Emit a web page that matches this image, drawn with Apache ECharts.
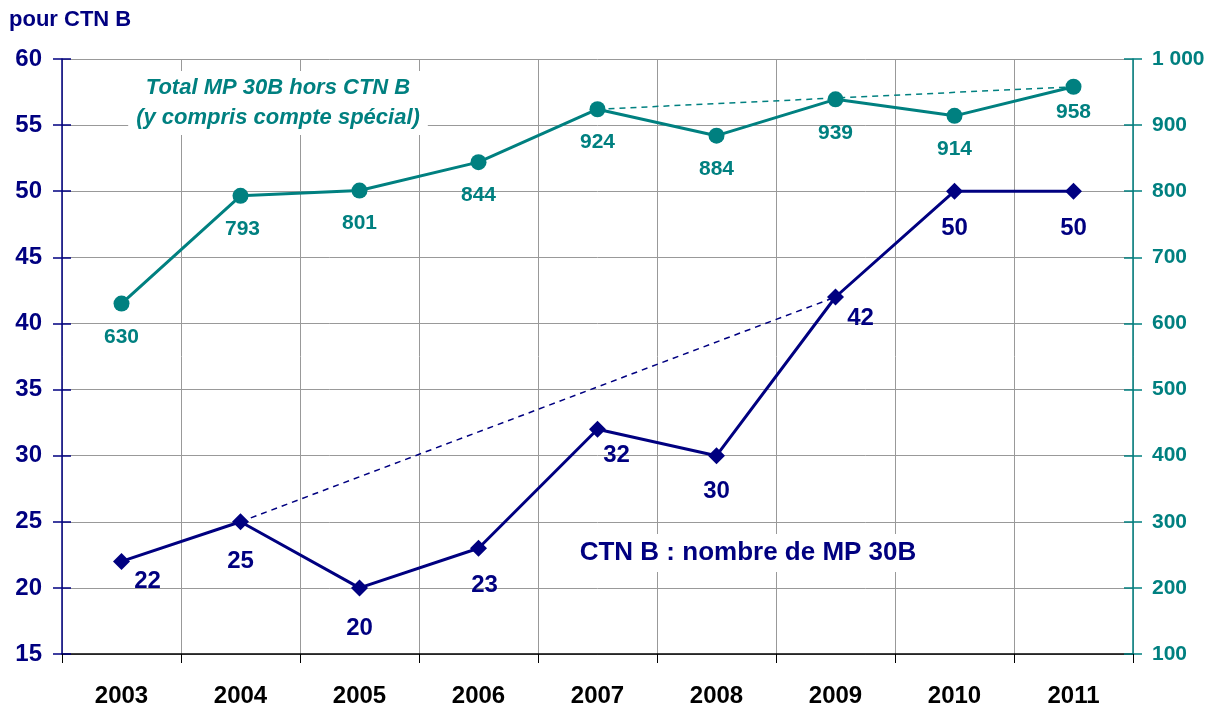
<!DOCTYPE html>
<html><head><meta charset="utf-8">
<script src="https://cdn.jsdelivr.net/npm/echarts@6/dist/echarts.min.js"></script>
<style>html,body{margin:0;padding:0;background:#fff}#c{width:1211px;height:709px}</style>
</head><body><div id="c"></div>
<script>
const years = ['2003','2004','2005','2006','2007','2008','2009','2010','2011'];
const ctnB = [22, 25, 20, 23, 32, 30, 42, 50, 50];
const totalMP = [630, 793, 801, 844, 924, 884, 939, 914, 958];
const ctnTrend = ['-', 25, '-', '-', '-', '-', 42, '-', '-'];
const totalTrend = ['-', '-', '-', '-', 924, '-', '-', '-', 958];

const NAVY = '#000080', TEAL = '#008080';
const FONT = '"Liberation Sans", Arial, sans-serif';
const navyOff = [[26,20],[0,40],[0,40],[6,37],[19,26],[0,36],[25,21],[0,37],[0,37]];
const tealOff = [[0,34],[2,33],[0,33],[0,33],[0,33],[0,34],[0,34],[0,33],[0,25]];

const chart = echarts.init(document.getElementById('c'), null, {renderer:'canvas'});
const yBase = (min,max,interval,pos,color,showLabel,inside,fmt) => ({
  type:'value', min, max, interval, position:pos,
  axisLine:{show:!inside, lineStyle:{color, width:1.5}},
  axisTick:{show:true, inside:inside, length:9, lineStyle:{color, width:1.5}},
  axisLabel:{show:showLabel, color, fontFamily:FONT, fontWeight:'bold', fontSize: pos==='left'?24:21, margin: pos==='left'?20:19, formatter: fmt},
  splitLine:{show:false}
});
const option = {
  animation:false,
  grid:{left:62, right:78, top:59, bottom:55, containLabel:false},
  xAxis:{type:'category', data:years, boundaryGap:true,
    axisLine:{lineStyle:{color:'#000', width:1.5}},
    axisTick:{show:true, length:9, lineStyle:{color:'#000', width:1}},
    axisLabel:{color:'#000', fontFamily:FONT, fontWeight:'bold', fontSize:24, margin:30},
    splitLine:{show:true, lineStyle:{color:'#999', width:1}}},
  yAxis:[
    Object.assign(yBase(15,60,5,'left',NAVY,true,false), {splitLine:{show:true, lineStyle:{color:'#999', width:1}}}),
    yBase(100,1000,100,'right',TEAL,true,false, v => v>=1000 ? '1 000' : String(v)),
    yBase(15,60,5,'left',NAVY,false,true),
    yBase(100,1000,100,'right',TEAL,false,true)
  ],
  series:[
    {type:'line', name:'trendCTN', data:ctnTrend, yAxisIndex:0, connectNulls:true, symbol:'none',
      lineStyle:{color:NAVY, width:1.5, type:[6,5]}, z:2},
    {type:'line', name:'trendTotal', data:totalTrend, yAxisIndex:1, connectNulls:true, symbol:'none',
      lineStyle:{color:TEAL, width:1.5, type:[6,5]}, z:2},
    {type:'line', name:'CTN B', yAxisIndex:0, symbol:'diamond', symbolSize:17,
      itemStyle:{color:NAVY}, lineStyle:{color:NAVY, width:3}, z:3,
      data: ctnB.map((v,i)=>({value:v, label:{offset:navyOff[i]}})),
      label:{show:true, position:'inside', color:NAVY, fontFamily:FONT, fontWeight:'bold', fontSize:24}},
    {type:'line', name:'Total', yAxisIndex:1, symbol:'circle', symbolSize:16,
      itemStyle:{color:TEAL}, lineStyle:{color:TEAL, width:3}, z:3,
      data: totalMP.map((v,i)=>({value:v, label:{offset:tealOff[i]}})),
      label:{show:true, position:'inside', color:TEAL, fontFamily:FONT, fontWeight:'bold', fontSize:21}}
  ],
  graphic:[
    {type:'text', left:9, top:9, style:{text:'pour CTN B', fill:NAVY, font:'bold 22px '+FONT}},
    {type:'text', x:278, y:103, z:10, style:{text:'Total MP 30B hors CTN B\n(y compris compte spécial)', fill:TEAL,
      font:'italic bold 22px '+FONT, align:'center', verticalAlign:'middle', lineHeight:30,
      backgroundColor:'#fff', padding:[2,8,2,8]}},
    {type:'text', x:748, y:553, z:10, style:{text:'CTN B : nombre de MP 30B', fill:NAVY,
      font:'bold 26px '+FONT, align:'center', verticalAlign:'middle', backgroundColor:'#fff', padding:[6,6,6,6]}}
  ]
};
chart.setOption(option);
</script></body></html>
